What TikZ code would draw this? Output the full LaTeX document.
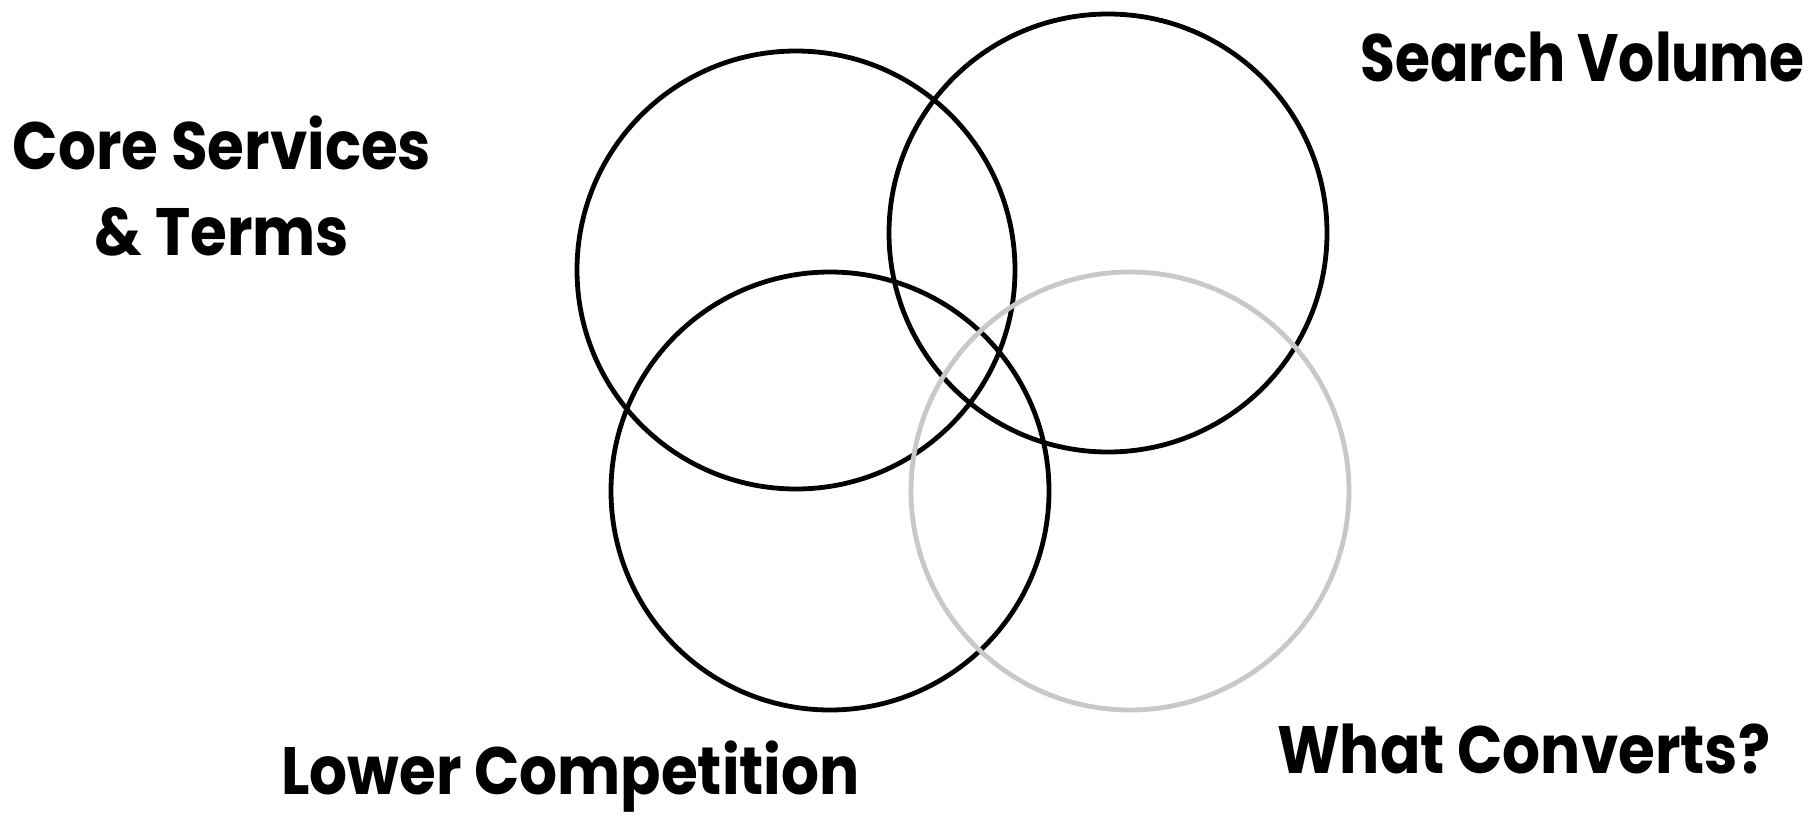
\documentclass[tikz,border=0pt]{standalone}
\usepackage{fontspec}
\setmainfont{Poppins}[UprightFont=*-Bold,BoldFont=*-Bold,FakeStretch=0.89]
\definecolor{lightring}{HTML}{C8C8C8}
\begin{document}
\begin{tikzpicture}[x=1pt,y=-1pt,
  ring/.style={draw=black,line width=4.8pt},
  grayring/.style={draw=lightring,line width=4.8pt},
  lbl/.style={inner sep=0pt,font=\fontsize{67}{86}\selectfont}]
\useasboundingbox (0,0) rectangle (1815,814);
\fill[white] (0,0) rectangle (1815,814);
\node[ring,circle,minimum size=438pt,inner sep=0pt] (core) at (796,270) {};
\node[ring,circle,minimum size=438pt,inner sep=0pt] (search) at (1108,233) {};
\node[ring,circle,minimum size=438pt,inner sep=0pt] (lower) at (830,491) {};
\node[grayring,circle,minimum size=438pt,inner sep=0pt] (converts) at (1130,491) {};
\node[lbl,anchor=base,align=center] (tcore) at (222,255) {Core Services\\\& Terms};
\node[lbl,anchor=base east] (tsearch) at (1805,81) {\scalebox{0.95}[1]{Search Volume}};
\node[lbl,anchor=base west] (tlower) at (281,794) {Lower Competition};
\node[lbl,anchor=base west] (tconv) at (1277,773) {What Converts?};
\end{tikzpicture}
\end{document}
